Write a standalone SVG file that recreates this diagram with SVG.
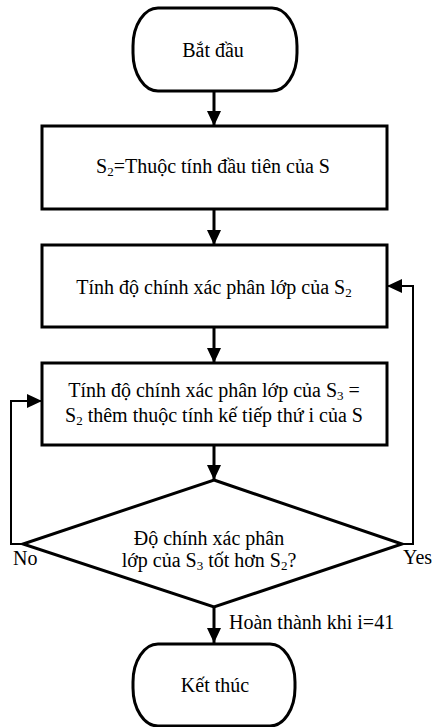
<svg xmlns="http://www.w3.org/2000/svg" width="432" height="727" viewBox="0 0 432 727">
<style>
.shape{fill:#fff;stroke:#000;stroke-width:3}
.t{font-family:"Liberation Serif","Times New Roman",serif;font-size:20px;fill:#000}
.c{text-anchor:middle}
.main{fill:none;stroke:#000;stroke-width:3}
.loop{fill:none;stroke:#000;stroke-width:2}
</style>
<defs>
<marker id="ah" viewBox="0 0 15 14" refX="15" refY="7" markerWidth="15" markerHeight="14" markerUnits="userSpaceOnUse" orient="auto">
<path d="M0,0 L15,7 L0,14 Z" fill="#000"/>
</marker>
</defs>
<rect width="432" height="727" fill="#fff"/>
<g id="connectors">
<line class="main" x1="214" y1="91" x2="214" y2="126" marker-end="url(#ah)"/>
<line class="main" x1="214" y1="209" x2="214" y2="245" marker-end="url(#ah)"/>
<line class="main" x1="214" y1="327" x2="214" y2="363" marker-end="url(#ah)"/>
<line class="main" x1="214" y1="445" x2="214" y2="480" marker-end="url(#ah)"/>
<line class="main" x1="214" y1="607" x2="214" y2="643" marker-end="url(#ah)"/>
<path class="loop" d="M23,544 H11 V401 H42" marker-end="url(#ah)"/>
<path class="loop" d="M402,544 H413 V286 H387" marker-end="url(#ah)"/>
</g>
<g id="start">
<rect class="shape" x="133" y="8" width="164" height="83" rx="25" ry="38"/>
<text class="t c" x="213" y="57">Bắt đầu</text>
</g>
<g id="init">
<rect class="shape" x="42" y="126" width="345" height="83"/>
<text class="t c" x="213" y="173">S<tspan font-size="13" dy="3">2</tspan><tspan dy="-3">=Thuộc tính đầu tiên của S</tspan></text>
</g>
<g id="evalS2">
<rect class="shape" x="42" y="245" width="345" height="82"/>
<text class="t c" x="214" y="294">Tính độ chính xác phân lớp của S<tspan font-size="13" dy="3">2</tspan></text>
</g>
<g id="evalS3">
<rect class="shape" x="42" y="363" width="345" height="82"/>
<text class="t c" x="214" y="397">Tính độ chính xác phân lớp của S<tspan font-size="13" dy="3">3</tspan><tspan dy="-3"> =</tspan></text>
<text class="t c" x="214" y="422">S<tspan font-size="13" dy="3">2</tspan><tspan dy="-3"> thêm thuộc tính kế tiếp thứ i của S</tspan></text>
</g>
<g id="decision">
<polygon class="shape" points="214,480 402,544 214,607 23,544"/>
<text class="t c" x="209" y="545">Độ chính xác phân</text>
<text class="t c" x="209" y="567">lớp của S<tspan font-size="13" dy="3">3</tspan><tspan dy="-3"> tốt hơn S</tspan><tspan font-size="13" dy="3">2</tspan><tspan dy="-3">?</tspan></text>
</g>
<g id="end">
<rect class="shape" x="133" y="644" width="162" height="82" rx="25" ry="38"/>
<text class="t c" x="215" y="692">Kết thúc</text>
</g>
<g id="labels">
<text class="t" x="13" y="565">No</text>
<text class="t" x="403" y="564">Yes</text>
<text class="t" x="229" y="629">Hoàn thành khi i=41</text>
</g>
</svg>
